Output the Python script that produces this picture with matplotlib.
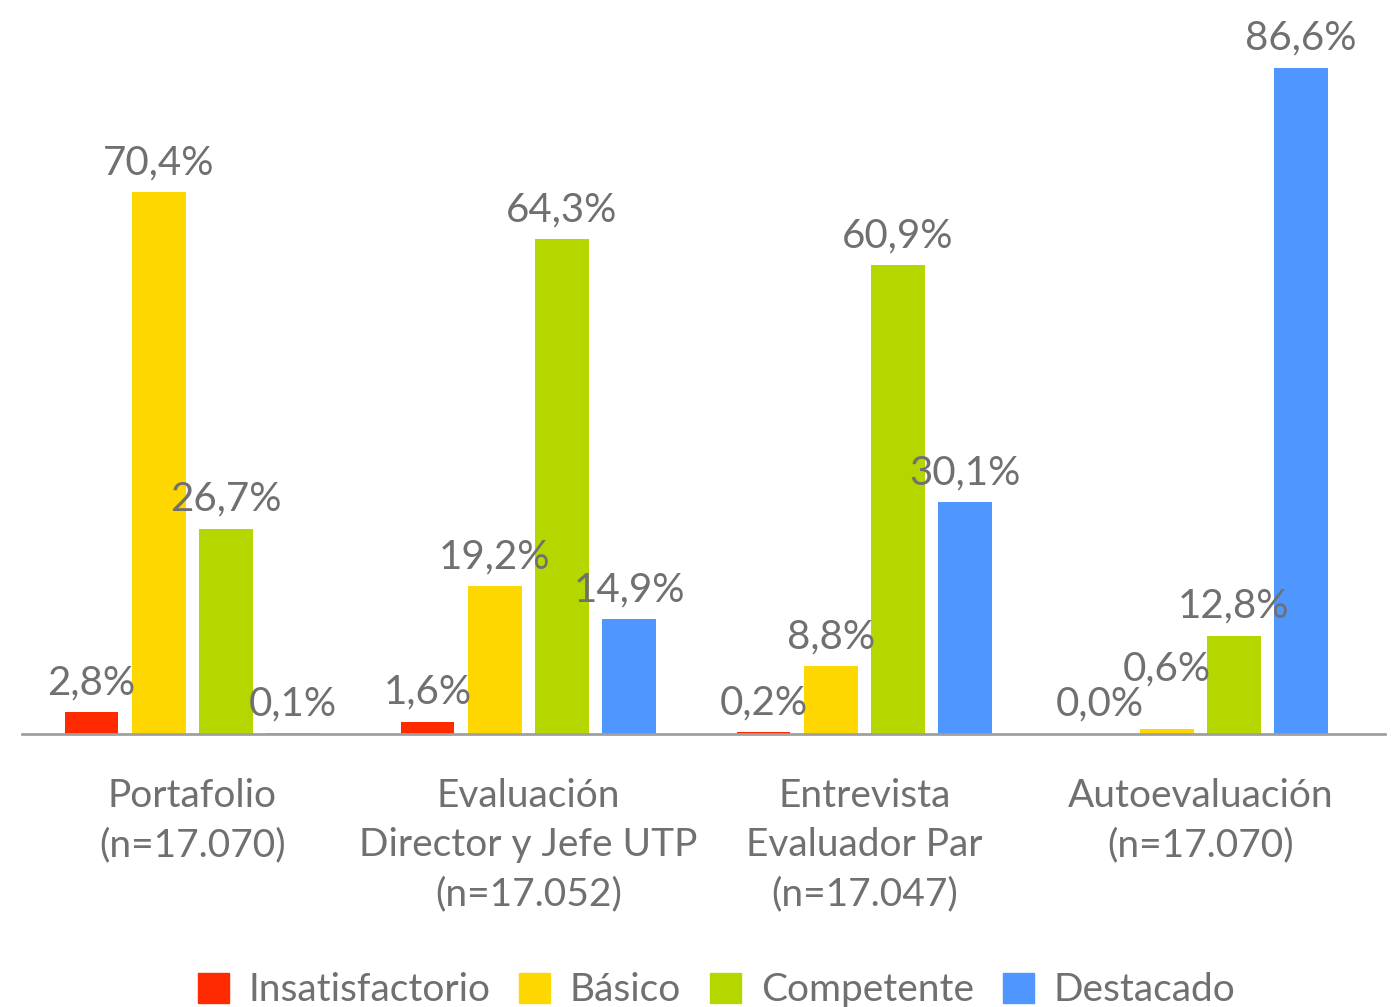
import numpy as np
import matplotlib
matplotlib.use("Agg")
import matplotlib.pyplot as plt
from matplotlib.patches import Patch

plt.rcParams["font.family"] = ["Lato", "DejaVu Sans"]

categories = [
    "Portafolio\n(n=17.070)",
    "Evaluación\nDirector y Jefe UTP\n(n=17.052)",
    "Entrevista\nEvaluador Par\n(n=17.047)",
    "Autoevaluación\n(n=17.070)",
]
series = ["Insatisfactorio", "Básico", "Competente", "Destacado"]
insatisfactorio = [2.8, 1.6, 0.2, 0.0]
basico = [70.4, 19.2, 8.8, 0.6]
competente = [26.7, 64.3, 60.9, 12.8]
destacado = [0.1, 14.9, 30.1, 86.6]

colors = ["#ff2a00", "#ffd700", "#b6d600", "#5096ff"]
text_color = "#707070"
# extra lift (points) for labels that would otherwise collide
extra_lift = {(1, 3): 22}

fig = plt.figure(figsize=(13.91, 10.07), dpi=100)
ax = fig.add_axes([0.0158, 0.2711, 0.9799, 0.7289])

x = np.arange(len(categories))
width = 0.16
step = 0.2
for i, (name, vals) in enumerate(zip(series, [insatisfactorio, basico, competente, destacado])):
    pos = x + (i - 1.5) * step
    bars = ax.bar(pos, vals, width=width, color=colors[i], label=name, zorder=2)
    for j, (b, v) in enumerate(zip(bars, vals)):
        ax.annotate(f"{v:.1f}".replace(".", ",") + "%",
                    (b.get_x() + b.get_width() / 2, b.get_height()),
                    xytext=(0, 8 + extra_lift.get((i, j), 0)), textcoords="offset points",
                    ha="center", va="bottom", fontsize=29, color=text_color, zorder=3)

ax.set_xlim(-0.507, 3.55)
ax.set_ylim(0, 95.4)
ax.set_xticks(x)
ax.set_xticklabels(categories, fontsize=28, color=text_color, linespacing=1.44)
ax.tick_params(axis="x", length=0, pad=32)
ax.set_yticks([])
for s in ["top", "right", "left"]:
    ax.spines[s].set_visible(False)
ax.spines["bottom"].set_color("#a0a0a0")
ax.spines["bottom"].set_linewidth(2)

handles = [Patch(color=c, label=s) for c, s in zip(colors, series)]
leg = fig.legend(handles=handles, loc="lower center", bbox_to_anchor=(0.515, -0.036),
                 ncol=4, frameon=False, fontsize=28, handlelength=0.8, handleheight=0.8,
                 handletextpad=0.5, columnspacing=0.75)
for t in leg.get_texts():
    t.set_color(text_color)

fig.savefig("out.png", dpi=100)
